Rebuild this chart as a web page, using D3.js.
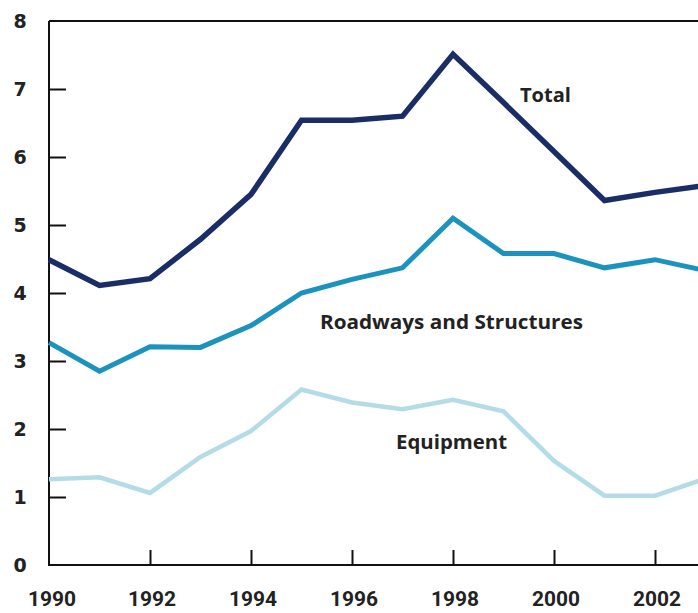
<!DOCTYPE html>
<html>
<head>
<meta charset="utf-8">
<script src="https://cdn.jsdelivr.net/npm/d3@7"></script>
<style>
  html, body { margin: 0; padding: 0; background: #fff; }
  svg { display: block; }
</style>
</head>
<body>
<svg id="chart" width="698" height="613"></svg>
<script>
const years = [1990,1991,1992,1993,1994,1995,1996,1997,1998,1999,2000,2001,2002,2003];
const total = [4.49,4.11,4.21,4.79,5.45,6.54,6.54,6.60,7.51,6.80,6.08,5.36,5.48,5.58];
const roadways = [3.27,2.85,3.21,3.20,3.52,4.00,4.20,4.37,5.10,4.58,4.58,4.37,4.49,4.33];
const equipment = [1.26,1.29,1.06,1.59,1.97,2.58,2.39,2.29,2.43,2.26,1.53,1.02,1.02,1.27];
const yTicks = [0,1,2,3,4,5,6,7,8];
const xTicks = [1990,1992,1994,1996,1998,2000,2002];
const seriesNames = ["Total", "Roadways and Structures", "Equipment"];

const svg = d3.select("#chart");
const x = d3.scaleLinear().domain([1990, 2003]).range([49, 705.5]);
const y = d3.scaleLinear().domain([0, 8]).range([565, 21]);

// frame: top border
svg.append("line")
  .attr("x1", x(1990)).attr("x2", 698)
  .attr("y1", y(8)).attr("y2", y(8))
  .attr("stroke", "#111").attr("stroke-width", 2);

// y axis (ticks pointing inward)
const yAxis = d3.axisRight(y).tickValues(yTicks).tickSize(17).tickFormat("");
const gy = svg.append("g").attr("transform", `translate(${x(1990)},0)`).call(yAxis);
gy.select(".domain").remove();
gy.selectAll(".tick line").attr("stroke", "#111").attr("stroke-width", 2);
gy.selectAll(".tick").filter(d => d === 0 || d === 8).select("line").remove();
svg.append("line")
  .attr("x1", x(1990)).attr("x2", x(1990))
  .attr("y1", y(8)).attr("y2", y(0))
  .attr("stroke", "#111").attr("stroke-width", 2);

// y tick labels
svg.append("g").selectAll("text").data(yTicks).join("text")
  .attr("x", 20).attr("y", d => y(d) + 7)
  .attr("text-anchor", "middle")
  .attr("font-family", "DejaVu Sans, sans-serif")
  .attr("font-weight", "bold").attr("font-size", 19)
  .attr("fill", "#222")
  .text(d => d);

// x axis (ticks pointing up)
const xAxis = d3.axisTop(x).tickValues(xTicks).tickSize(15).tickFormat("");
const gx = svg.append("g").attr("transform", `translate(0,${y(0)})`).call(xAxis);
gx.select(".domain").remove();
gx.selectAll(".tick line").attr("stroke", "#111").attr("stroke-width", 2);
gx.selectAll(".tick").filter(d => d === 1990).select("line").remove();
svg.append("line")
  .attr("x1", x(1990) - 1).attr("x2", 698)
  .attr("y1", y(0)).attr("y2", y(0))
  .attr("stroke", "#111").attr("stroke-width", 2);

// x tick labels
svg.append("g").selectAll("text").data(xTicks).join("text")
  .attr("x", d => x(d) + (d === 1990 ? 3 : 2)).attr("y", 606)
  .attr("text-anchor", "middle")
  .attr("font-family", "Liberation Sans Narrow, Roboto, sans-serif")
  .attr("font-weight", "bold").attr("font-size", 20)
  .attr("textLength", 48).attr("lengthAdjust", "spacingAndGlyphs")
  .attr("fill", "#222")
  .text(d => d);

// lines
const line = d3.line().x((d, i) => x(years[i])).y(d => y(d));
const series = [
  {values: equipment, color: "#b3dce7", width: 4.5},
  {values: roadways, color: "#1b93be", width: 5},
  {values: total, color: "#1b2d66", width: 5.5}
];
svg.append("g").selectAll("path").data(series).join("path")
  .attr("d", d => line(d.values))
  .attr("fill", "none")
  .attr("stroke", d => d.color)
  .attr("stroke-width", d => d.width)
  .attr("stroke-linejoin", "miter");

// labels
const labels = [
  {text: seriesNames[0], x: 520, y: 102, len: 51},
  {text: seriesNames[1], x: 320, y: 329, len: 263},
  {text: seriesNames[2], x: 396, y: 449, len: 111}
];
svg.append("g").selectAll("text").data(labels).join("text")
  .attr("x", d => d.x).attr("y", d => d.y)
  .attr("font-family", "Open Sans, sans-serif")
  .attr("font-weight", "bold").attr("font-size", 19)
  .attr("textLength", d => d.len).attr("lengthAdjust", "spacingAndGlyphs")
  .attr("fill", "#222")
  .text(d => d.text);
</script>
</body>
</html>
